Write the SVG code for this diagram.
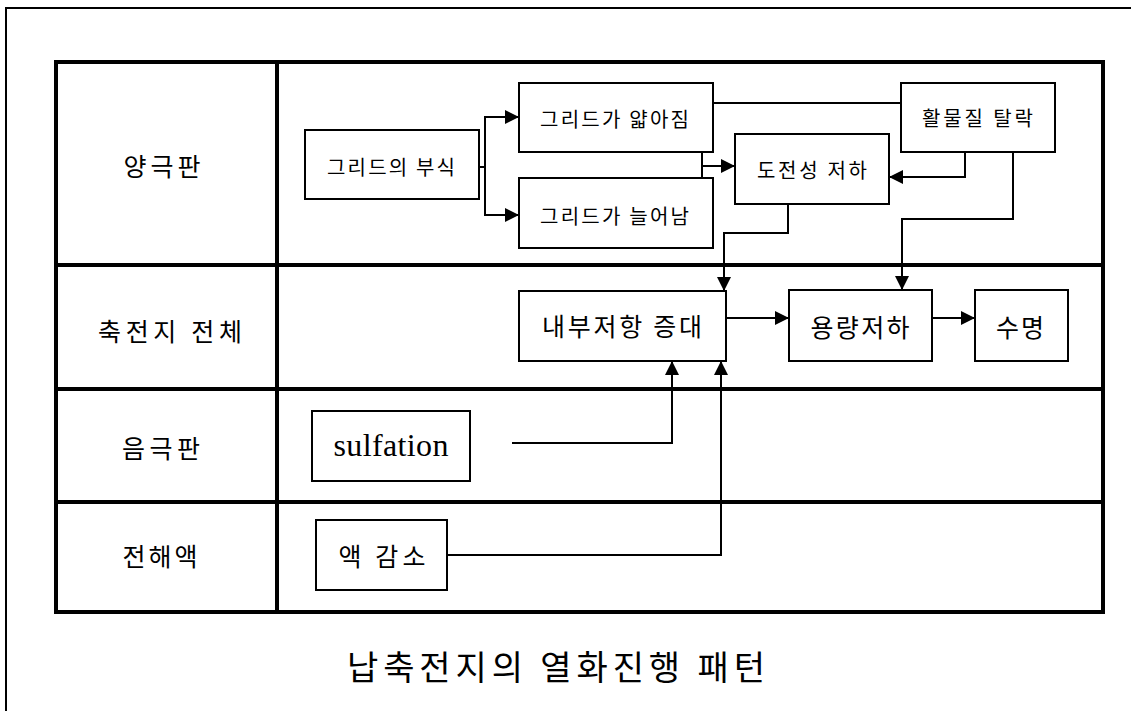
<svg xmlns="http://www.w3.org/2000/svg" width="1131" height="711" viewBox="0 0 1131 711">
<style>
.bg{fill:#fff}
.frame{fill:none;stroke:#000;stroke-width:2}
.tbl{fill:none;stroke:#000;stroke-width:4}
.box{fill:#fff;stroke:#000;stroke-width:2}
.con{fill:none;stroke:#000;stroke-width:2}
.arr{marker-end:url(#ah)}
text{font-family:"Noto Sans CJK KR","Noto Sans",sans-serif;fill:#000;text-anchor:middle;dominant-baseline:central}
.lbl{font-size:25px}
.s{font-size:20px}
.m{font-size:25px}
.lat{font-family:"Liberation Serif",serif;font-size:32px}
.cap{font-size:34px}
</style>
<defs>
<marker id="ah" markerUnits="userSpaceOnUse" markerWidth="14" markerHeight="14" refX="14" refY="7" orient="auto">
<path d="M0,0 L14,7 L0,14 z" fill="#000"/>
</marker>
</defs>
<rect class="bg" x="0" y="0" width="1131" height="711"/>
<path class="frame" d="M6,711 V8 H1131"/>
<g id="table">
<rect class="tbl" x="56" y="62" width="1047" height="550"/>
<line class="tbl" x1="277" y1="62" x2="277" y2="612"/>
<line class="tbl" x1="56" y1="265" x2="1103" y2="265"/>
<line class="tbl" x1="56" y1="389" x2="1103" y2="389"/>
<line class="tbl" x1="56" y1="502" x2="1103" y2="502"/>
<text class="lbl" x="162" y="165" textLength="77">양극판</text>
<text class="lbl" x="170" y="330" textLength="144">축전지 전체</text>
<text class="lbl" x="161" y="447" textLength="78">음극판</text>
<text class="lbl" x="160" y="555" textLength="75">전해액</text>
</g>
<g id="connectors">
<path class="con arr" d="M479,167 H485 V117 H519"/>
<path class="con arr" d="M485,167 V215 H519"/>
<path class="con" d="M702,152 V178"/>
<path class="con arr" d="M702,166 H735"/>
<path class="con" d="M713,103 H901"/>
<path class="con arr" d="M965,152 V177 H889"/>
<path class="con arr" d="M1013,152 V219 H902 V290"/>
<path class="con arr" d="M788,204 V233 H724 V291"/>
<path class="con arr" d="M726,318 H789"/>
<path class="con arr" d="M932,318 H975"/>
<path class="con arr" d="M512,443 H672 V361"/>
<path class="con arr" d="M447,555 H721 V361"/>
</g>
<g id="n-corrosion">
<rect class="box" x="305" y="130" width="174" height="69"/>
<text class="s" x="391" y="166" textLength="128">그리드의 부식</text>
</g>
<g id="n-thin">
<rect class="box" x="519" y="83" width="194" height="69"/>
<text class="s" x="614.5" y="118" textLength="149">그리드가 얇아짐</text>
</g>
<g id="n-stretch">
<rect class="box" x="519" y="178" width="194" height="70"/>
<text class="s" x="614.5" y="215" textLength="149">그리드가 늘어남</text>
</g>
<g id="n-conductivity">
<rect class="box" x="735" y="134" width="154" height="70"/>
<text class="s" x="812" y="169" textLength="110">도전성 저하</text>
</g>
<g id="n-shedding">
<rect class="box" x="901" y="83" width="154" height="69"/>
<text class="s" x="977.5" y="117" textLength="111">활물질 탈락</text>
</g>
<g id="n-resistance">
<rect class="box" x="519" y="291" width="207" height="70"/>
<text class="m" x="622" y="325" textLength="160">내부저항 증대</text>
</g>
<g id="n-capacity">
<rect class="box" x="789" y="290" width="143" height="71"/>
<text class="m" x="860" y="326" textLength="99">용량저하</text>
</g>
<g id="n-life">
<rect class="box" x="975" y="290" width="93" height="71"/>
<text class="m" x="1020" y="326" textLength="48">수명</text>
</g>
<g id="n-sulfation">
<rect class="box" x="312" y="411" width="158" height="70"/>
<text class="lat" x="391" y="445" textLength="115">sulfation</text>
</g>
<g id="n-electrolyte">
<rect class="box" x="316" y="520" width="131" height="70"/>
<text class="m" x="382" y="555" textLength="87">액 감소</text>
</g>
<g id="caption">
<text class="cap" x="556" y="665" textLength="418">납축전지의 열화진행 패턴</text>
</g>
</svg>
